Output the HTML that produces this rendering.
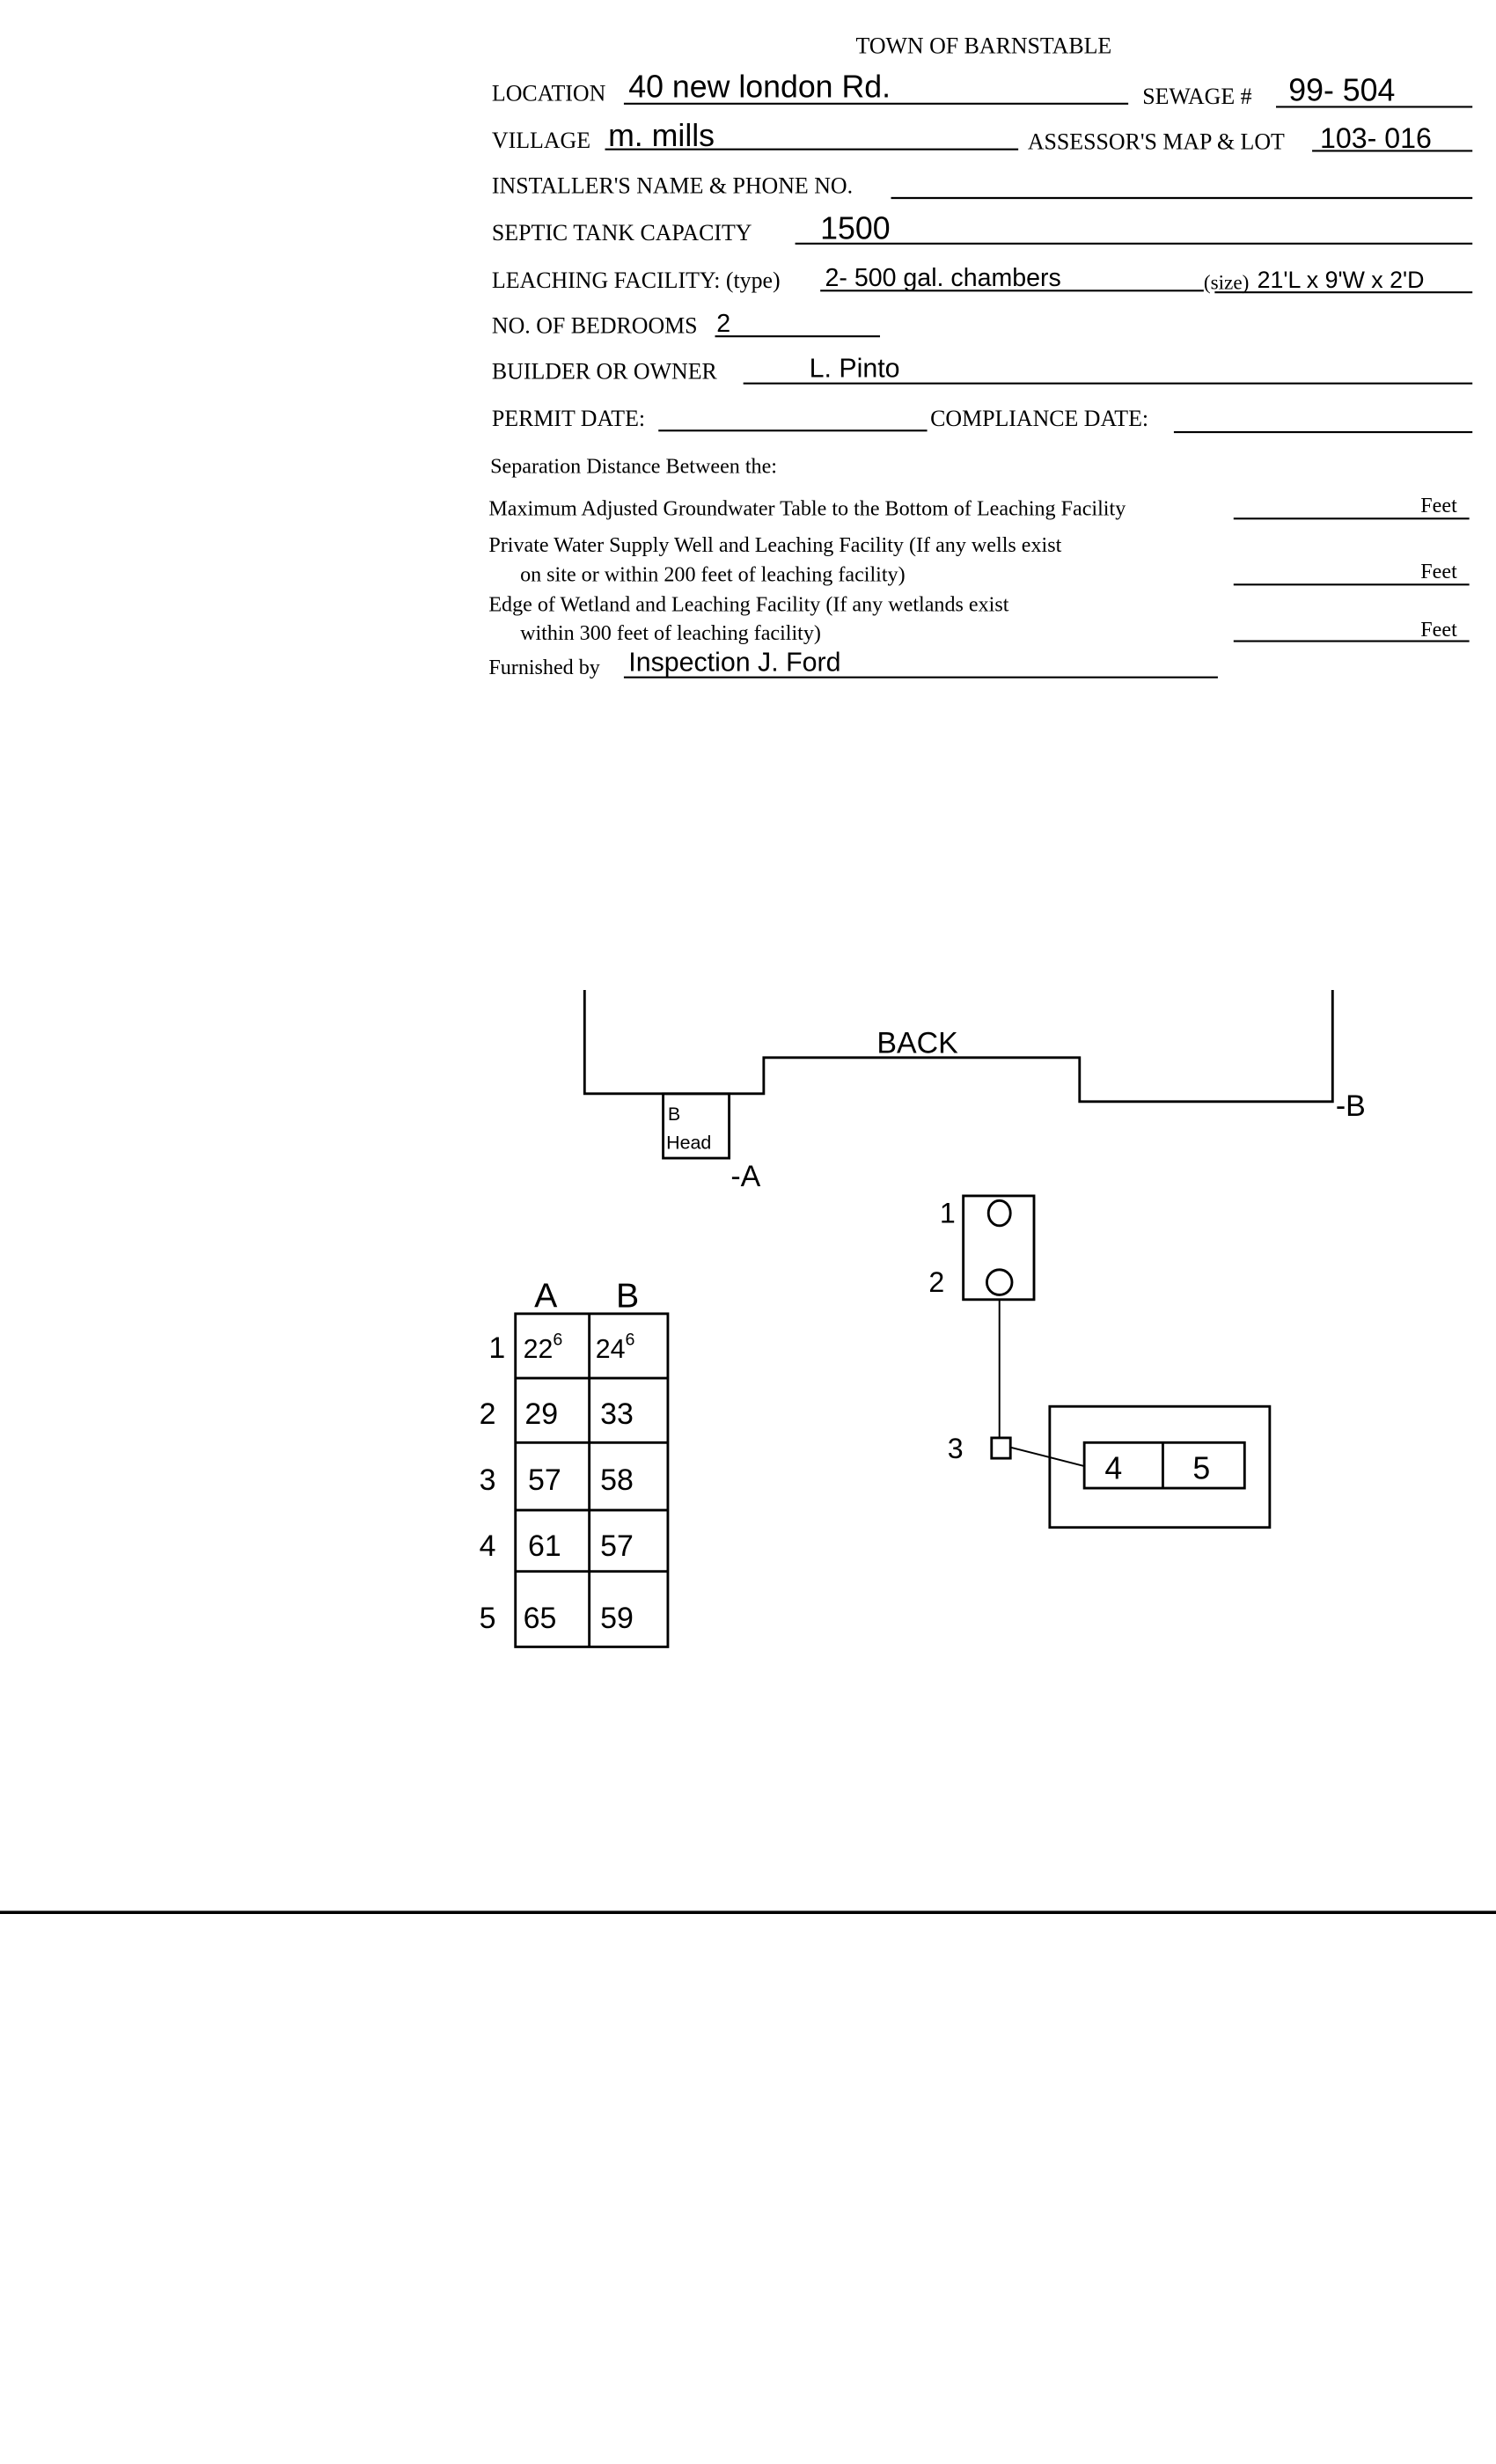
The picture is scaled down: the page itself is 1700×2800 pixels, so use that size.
<!DOCTYPE html>
<html><head><meta charset="utf-8"><style>
html,body{margin:0;padding:0;background:#fff;width:1700px;height:2800px;overflow:hidden}
svg{display:block}
.f{font-family:"Liberation Serif",serif;font-size:14.5px;fill:#000}
.s{font-family:"Liberation Serif",serif;font-size:13.5px;fill:#000}
.h{font-family:"Liberation Sans",sans-serif;font-size:20px;fill:#000;font-weight:normal}
</style></head><body>
<svg width="1700" height="2800" viewBox="0 0 952 1568" preserveAspectRatio="none">
<g stroke="#000" stroke-width="1.2" fill="none">
<line x1="397" y1="66" x2="718" y2="66"/><line x1="812" y1="68" x2="937" y2="68"/>
<line x1="385" y1="95" x2="648" y2="95"/><line x1="835" y1="96" x2="937" y2="96"/>
<line x1="567" y1="126" x2="937" y2="126"/>
<line x1="506" y1="155" x2="937" y2="155"/>
<line x1="522" y1="185" x2="766" y2="185"/><line x1="773" y1="186" x2="937" y2="186"/>
<line x1="455" y1="214" x2="560" y2="214"/>
<line x1="473" y1="244" x2="937" y2="244"/>
<line x1="419" y1="274" x2="590" y2="274"/><line x1="747" y1="275" x2="937" y2="275"/>
<line x1="785" y1="330" x2="935" y2="330"/>
<line x1="785" y1="372" x2="935" y2="372"/>
<line x1="785" y1="408" x2="935" y2="408"/>
<line x1="397" y1="431" x2="775" y2="431"/>
</g>
<text class="f" x="626" y="34" text-anchor="middle">TOWN OF BARNSTABLE</text>
<text class="f" x="313" y="64">LOCATION</text><text class="f" x="727" y="66">SEWAGE #</text>
<text class="f" x="313" y="94">VILLAGE</text><text class="f" x="654" y="95">ASSESSOR'S MAP &amp; LOT</text>
<text class="f" x="313" y="123">INSTALLER'S NAME &amp; PHONE NO.</text>
<text class="f" x="313" y="153">SEPTIC TANK CAPACITY</text>
<text class="f" x="313" y="183">LEACHING FACILITY: (type)</text><text class="f" x="766" y="184" style="font-size:13px">(size)</text>
<text class="f" x="313" y="212">NO. OF BEDROOMS</text>
<text class="f" x="313" y="241">BUILDER OR OWNER</text>
<text class="f" x="313" y="271">PERMIT DATE:</text><text class="f" x="592" y="271">COMPLIANCE DATE:</text>
<text class="s" x="312" y="301">Separation Distance Between the:</text>
<text class="s" x="311" y="328">Maximum Adjusted Groundwater Table to the Bottom of Leaching Facility</text>
<text class="s" x="904" y="326">Feet</text>
<text class="s" x="311" y="351">Private Water Supply Well and Leaching Facility  (If any wells exist</text>
<text class="s" x="331" y="370">on site or within 200 feet of leaching facility)</text>
<text class="s" x="904" y="368">Feet</text>
<text class="s" x="311" y="389">Edge of Wetland and Leaching Facility (If any wetlands exist</text>
<text class="s" x="331" y="407">within 300 feet of leaching facility)</text>
<text class="s" x="904" y="405">Feet</text>
<text class="s" x="311" y="429">Furnished by</text>
<g class="h">
<text class="h" x="400" y="62">40   new  london  Rd.</text>
<text class="h" x="820" y="64">99- 504</text>
<text class="h" x="387" y="93">m.   mills</text>
<text class="h" x="840" y="94" style="font-size:18px">103- 016</text>
<text class="h" x="522" y="152">1500</text>
<text class="h" x="525" y="182" style="font-size:16px">2-  500 gal.  chambers</text>
<text class="h" x="800" y="183" style="font-size:15px">21'L x 9'W x 2'D</text>
<text class="h" x="456" y="211" style="font-size:16px">2</text>
<text class="h" x="515" y="240" style="font-size:17px">L.   Pinto</text>
<text class="h" x="400" y="427" style="font-size:17px">Inspection    J. Ford</text>
</g>
<g stroke="#000" stroke-width="1.6" fill="none">
<polyline points="372,630 372,696 486,696 486,673 687,673 687,701 848,701 848,630"/>
<rect x="422" y="696" width="42" height="41"/>
<rect x="328" y="836" width="97" height="212"/>
<line x1="375" y1="836" x2="375" y2="1048"/>
<line x1="328" y1="877" x2="425" y2="877"/>
<line x1="328" y1="918" x2="425" y2="918"/>
<line x1="328" y1="961" x2="425" y2="961"/>
<line x1="328" y1="1000" x2="425" y2="1000"/>
<rect x="613" y="761" width="45" height="66"/>
<ellipse cx="636" cy="772" rx="7" ry="8"/>
<ellipse cx="636" cy="816" rx="8" ry="8"/>
<line x1="636" y1="827" x2="636" y2="915" stroke-width="1.1"/>
<rect x="631" y="915" width="12" height="13"/>
<line x1="643" y1="921" x2="690" y2="933" stroke-width="1.1"/>
<rect x="668" y="895" width="140" height="77"/>
<rect x="690" y="918" width="102" height="29"/>
<line x1="740" y1="918" x2="740" y2="947"/>
<line x1="0" y1="1217" x2="952" y2="1217" stroke-width="2"/>
</g>
<g class="h">
<text x="558" y="670" style="font-size:19px">BACK</text>
<text x="850" y="710" style="font-size:19px">-B</text>
<text x="425" y="713" style="font-size:12px">B</text>
<text x="424" y="731" style="font-size:12px">Head</text>
<text x="465" y="755" style="font-size:19px">-A</text>
<text x="340" y="832" style="font-size:22px">A</text>
<text x="392" y="832" style="font-size:22px">B</text>
<text x="311" y="864" style="font-size:19px">1</text>
<text x="305" y="906" style="font-size:19px">2</text>
<text x="305" y="948" style="font-size:19px">3</text>
<text x="305" y="990" style="font-size:19px">4</text>
<text x="305" y="1036" style="font-size:19px">5</text>
<text x="333" y="864" style="font-size:17px">22<tspan dy="-8" style="font-size:11px">6</tspan></text>
<text x="379" y="864" style="font-size:17px">24<tspan dy="-8" style="font-size:11px">6</tspan></text>
<text x="334" y="906" style="font-size:19px">29</text><text x="382" y="906" style="font-size:19px">33</text>
<text x="336" y="948" style="font-size:19px">57</text><text x="382" y="948" style="font-size:19px">58</text>
<text x="336" y="990" style="font-size:19px">61</text><text x="382" y="990" style="font-size:19px">57</text>
<text x="333" y="1036" style="font-size:19px">65</text><text x="382" y="1036" style="font-size:19px">59</text>
<text x="598" y="778" style="font-size:18px">1</text>
<text x="591" y="822" style="font-size:18px">2</text>
<text x="603" y="928" style="font-size:18px">3</text>
<text x="703" y="941" style="font-size:20px">4</text>
<text x="759" y="941" style="font-size:20px">5</text>
</g>
</svg>
</body></html>
